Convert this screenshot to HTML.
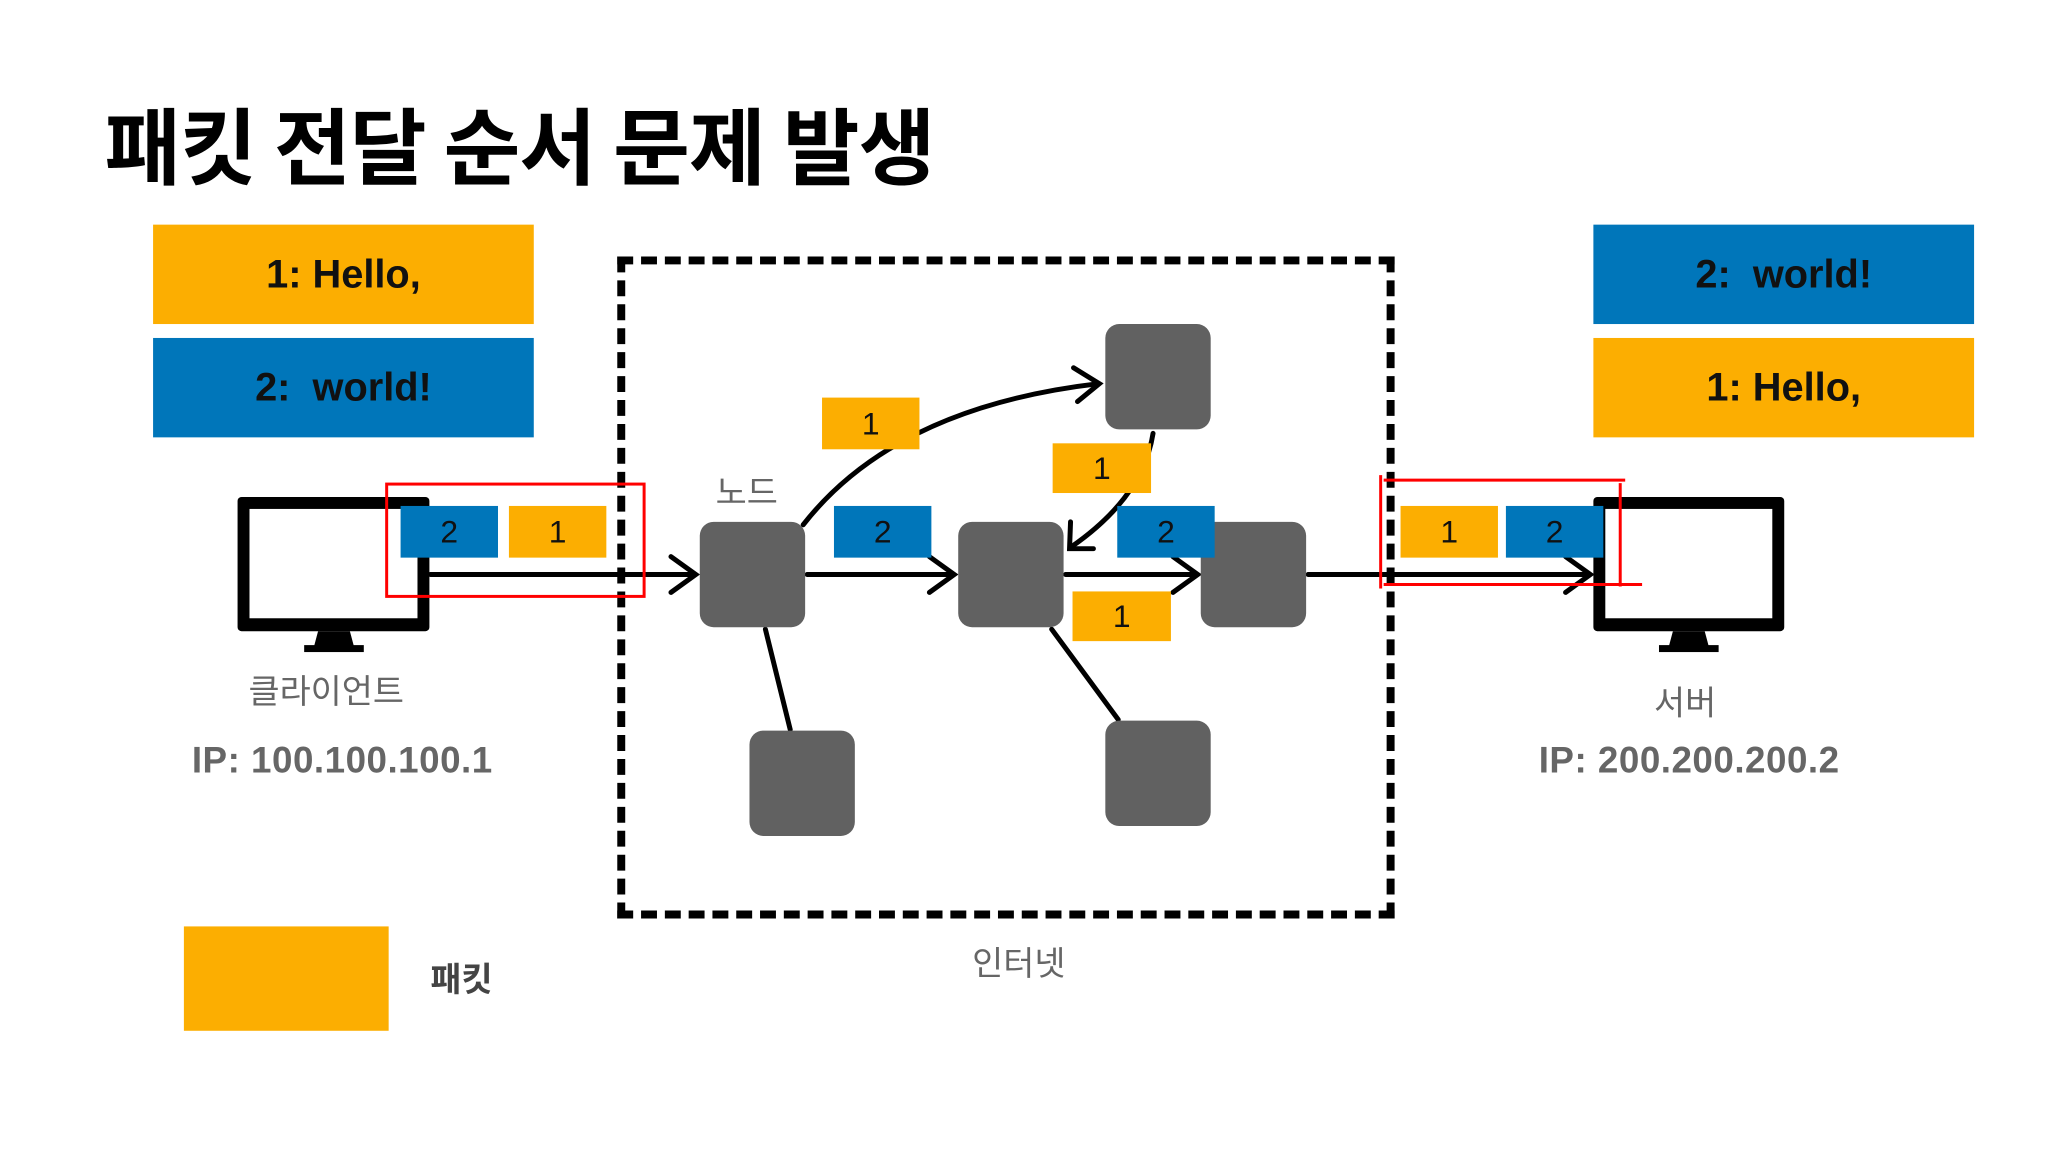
<!DOCTYPE html>
<html><head><meta charset="utf-8"><style>
body{margin:0;background:#fff;}
.o0{width:2048px;height:1152px;overflow:hidden;position:relative;}
.w{position:absolute;left:0;top:0;width:2048px;height:1152px;transform:scale(0.994);transform-origin:0 0;font-family:"Liberation Sans","Noto Sans CJK KR",sans-serif;}
.a{position:absolute;}
.big{display:flex;align-items:center;justify-content:center;font-weight:bold;font-size:40px;color:#111;}
.o{background:#FCAE01;}.b{background:#0076BA;}
.p{display:flex;align-items:center;justify-content:center;font-size:32px;color:#111;}
.n{background:#616161;border-radius:14px;}
.g{color:#666;}
</style></head><body><div class="o0"><div class="w">
<div class="a" style="left:105px;top:98px;font-size:84px;font-weight:bold;font-family:'Noto Sans CJK KR',sans-serif;color:#000;letter-spacing:-1px;line-height:1.1">패킷 전달 순서 문제 발생</div>
<div class="a big o" style="left:154px;top:226px;width:383px;height:100px">1: Hello,</div>
<div class="a big b" style="left:154px;top:340px;width:383px;height:100px">2:&nbsp; world!</div>
<div class="a big b" style="left:1603px;top:226px;width:383px;height:100px">2:&nbsp; world!</div>
<div class="a big o" style="left:1603px;top:340px;width:383px;height:100px">1: Hello,</div>
<div class="a" style="left:621px;top:258px;width:766px;height:650px;border:8px dashed #000;"></div>
<svg class="a" style="left:0;top:0" width="2048" height="1152">
<g fill="#000">
<rect x="239" y="500" width="193" height="135" rx="4"/><rect x="251" y="512" width="169" height="110" fill="#fff"/><polygon points="320,635 352,635 356,650 316,650"/><rect x="306" y="649" width="60" height="7"/>
<rect x="1603" y="500" width="192" height="135" rx="4"/><rect x="1615" y="512" width="168" height="110" fill="#fff"/><polygon points="1683,635 1715,635 1719,650 1679,650"/><rect x="1669" y="649" width="60" height="7"/>
</g>
<g stroke="#000" stroke-width="5" fill="none" stroke-linecap="round">
<line x1="433" y1="578" x2="698" y2="578"/><polyline points="675,560 700,578 675,596"/>
<line x1="812" y1="578" x2="958" y2="578"/><polyline points="935,560 960,578 935,596"/>
<line x1="1072" y1="578" x2="1203" y2="578"/><polyline points="1180,560 1205,578 1180,596"/>
<line x1="1316" y1="578" x2="1598" y2="578"/><polyline points="1575,560 1600,578 1575,596"/>
<path d="M808 528 Q900 410 1105 386"/><polyline points="1080,370 1106,386 1084,404"/>
<path d="M1160 436 Q1150 500 1078 550"/><polyline points="1077,525 1076,552 1100,552"/>
<line x1="770" y1="633" x2="795" y2="734"/>
<line x1="1058" y1="633" x2="1125" y2="724"/>
</g>
<g stroke="#f00" stroke-width="3" fill="none">
<rect x="389" y="487" width="259" height="113"/>
<line x1="1389" y1="478" x2="1389" y2="592"/><line x1="1392" y1="483" x2="1635" y2="483"/><line x1="1630" y1="486" x2="1630" y2="590"/><line x1="1392" y1="588" x2="1652" y2="588"/>
</g>
</svg>
<div class="a n" style="left:704px;top:525px;width:106px;height:106px"></div>
<div class="a n" style="left:964px;top:525px;width:106px;height:106px"></div>
<div class="a n" style="left:1208px;top:525px;width:106px;height:106px"></div>
<div class="a n" style="left:1112px;top:326px;width:106px;height:106px"></div>
<div class="a n" style="left:754px;top:735px;width:106px;height:106px"></div>
<div class="a n" style="left:1112px;top:725px;width:106px;height:106px"></div>
<div class="a p b" style="left:403px;top:509px;width:98px;height:52px">2</div>
<div class="a p o" style="left:512px;top:509px;width:98px;height:52px">1</div>
<div class="a p o" style="left:827px;top:400px;width:98px;height:52px">1</div>
<div class="a p o" style="left:1059px;top:446px;width:99px;height:50px">1</div>
<div class="a p b" style="left:839px;top:509px;width:98px;height:52px">2</div>
<div class="a p b" style="left:1124px;top:509px;width:98px;height:52px">2</div>
<div class="a p o" style="left:1079px;top:595px;width:99px;height:50px">1</div>
<div class="a p o" style="left:1409px;top:509px;width:98px;height:52px">1</div>
<div class="a p b" style="left:1515px;top:509px;width:98px;height:52px">2</div>
<div class="a g" style="left:720px;top:468px;font-size:34px">노드</div>
<div class="a g" style="left:250px;top:668px;font-size:34px">클라이언트</div>
<div class="a g" style="left:193px;top:744px;font-size:37px;font-weight:bold;letter-spacing:0.5px">IP: 100.100.100.1</div>
<div class="a g" style="left:1664px;top:680px;font-size:34px">서버</div>
<div class="a g" style="left:1548px;top:744px;font-size:37px;font-weight:bold;letter-spacing:0.5px">IP: 200.200.200.2</div>
<div class="a o" style="left:185px;top:932px;width:206px;height:105px"></div>
<div class="a" style="left:433px;top:958px;font-size:34px;font-weight:bold;color:#444">패킷</div>
<div class="a g" style="left:978px;top:942px;font-size:34px">인터넷</div>
</div></div></body></html>
